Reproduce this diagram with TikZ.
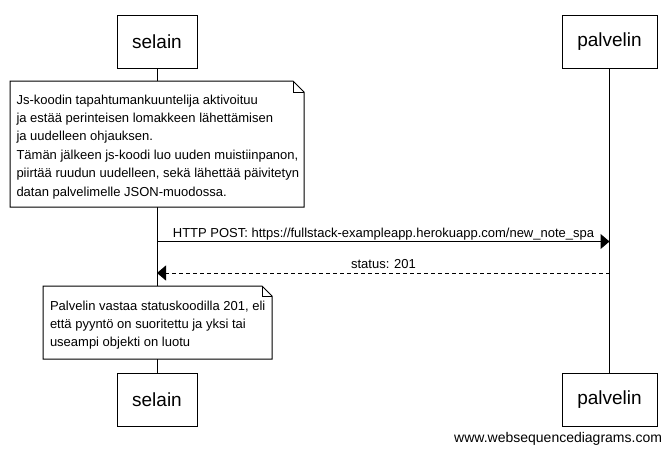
\documentclass[tikz,border=0pt]{standalone}
\usepackage{fontspec}
\setmainfont{Liberation Sans}
\usetikzlibrary{arrows.meta}
\begin{document}
\begin{tikzpicture}[x=1pt,y=-1pt,
  every node/.style={inner sep=0pt, outer sep=0pt},
  actor/.style={draw, line width=1pt, fill=white, minimum height=53pt, font=\fontsize{19}{22}\selectfont},
  lifeline/.style={line width=1pt},
  notebox/.style={draw, line width=1pt, fill=white, line join=miter},
  notetext/.style={anchor=base west, font=\fontsize{13}{16}\selectfont},
  msglabel/.style={anchor=base, font=\fontsize{13}{16}\selectfont},
  msg/.style={line width=1pt, -{Triangle[length=9pt,width=15pt]}},
  reply/.style={msg, dash pattern=on 4pt off 3pt}
]
\useasboundingbox (0,0) rectangle (671,450);

% participants
\node[actor, minimum width=80pt] (selTop) at (157,41.5) {selain};
\node[actor, minimum width=95pt] (palTop) at (609.5,41.5) {palvelin};
\node[actor, minimum width=80pt] (selBot) at (157,399.5) {selain};
\node[actor, minimum width=95pt] (palBot) at (609.5,399.5) {palvelin};

% lifelines
\draw[lifeline] (selTop) -- (selBot);
\draw[lifeline] (palTop) -- (palBot);

% note 1
\draw[notebox] (10,81) -- (293,81) -- (304,92) -- (304,207) -- (10,207) -- cycle;
\draw[line width=1pt] (293,81) -- (293,92) -- (304,92);
\node[notetext] (n1a) at (16.5,104) {Js-koodin tapahtumankuuntelija aktivoituu};
\node[notetext] (n1b) at (16.5,122.4) {ja estää perinteisen lomakkeen lähettämisen};
\node[notetext] (n1c) at (16.5,140.8) {ja uudelleen ohjauksen.};
\node[notetext] (n1d) at (16.5,159.2) {Tämän jälkeen js-koodi luo uuden muistiinpanon,};
\node[notetext] (n1e) at (16.5,177.6) {piirtää ruudun uudelleen, sekä lähettää päivitetyn};
\node[notetext] (n1f) at (16.5,196) {datan palvelimelle JSON-muodossa.};

% messages
\coordinate (m1s) at (157,241.5);
\coordinate (m1p) at (609.5,241.5);
\coordinate (m2p) at (609.5,273);
\coordinate (m2s) at (157,273);
\draw[msg] (m1s) -- (m1p);
\node[msglabel] (l1) at (383.5,237) {HTTP POST: https://fullstack-exampleapp.herokuapp.com/new\_note\_spa};
\draw[reply] (m2p) -- (m2s);
\node[msglabel] (l2) at (383.5,268.5) {status: 201};

% note 2
\draw[notebox] (43,286) -- (262,286) -- (272,296) -- (272,359) -- (43,359) -- cycle;
\draw[line width=1pt] (262,286) -- (262,296) -- (272,296);
\node[notetext] (n2a) at (50,310.5) {Palvelin vastaa statuskoodilla 201, eli};
\node[notetext] (n2b) at (50,328.5) {että pyyntö on suoritettu ja yksi tai};
\node[notetext] (n2c) at (50,346.5) {useampi objekti on luotu};

% watermark
\node[anchor=base east, font=\fontsize{14}{16}\selectfont] (wm) at (662,442) {www.websequencediagrams.com};
\end{tikzpicture}
\end{document}
